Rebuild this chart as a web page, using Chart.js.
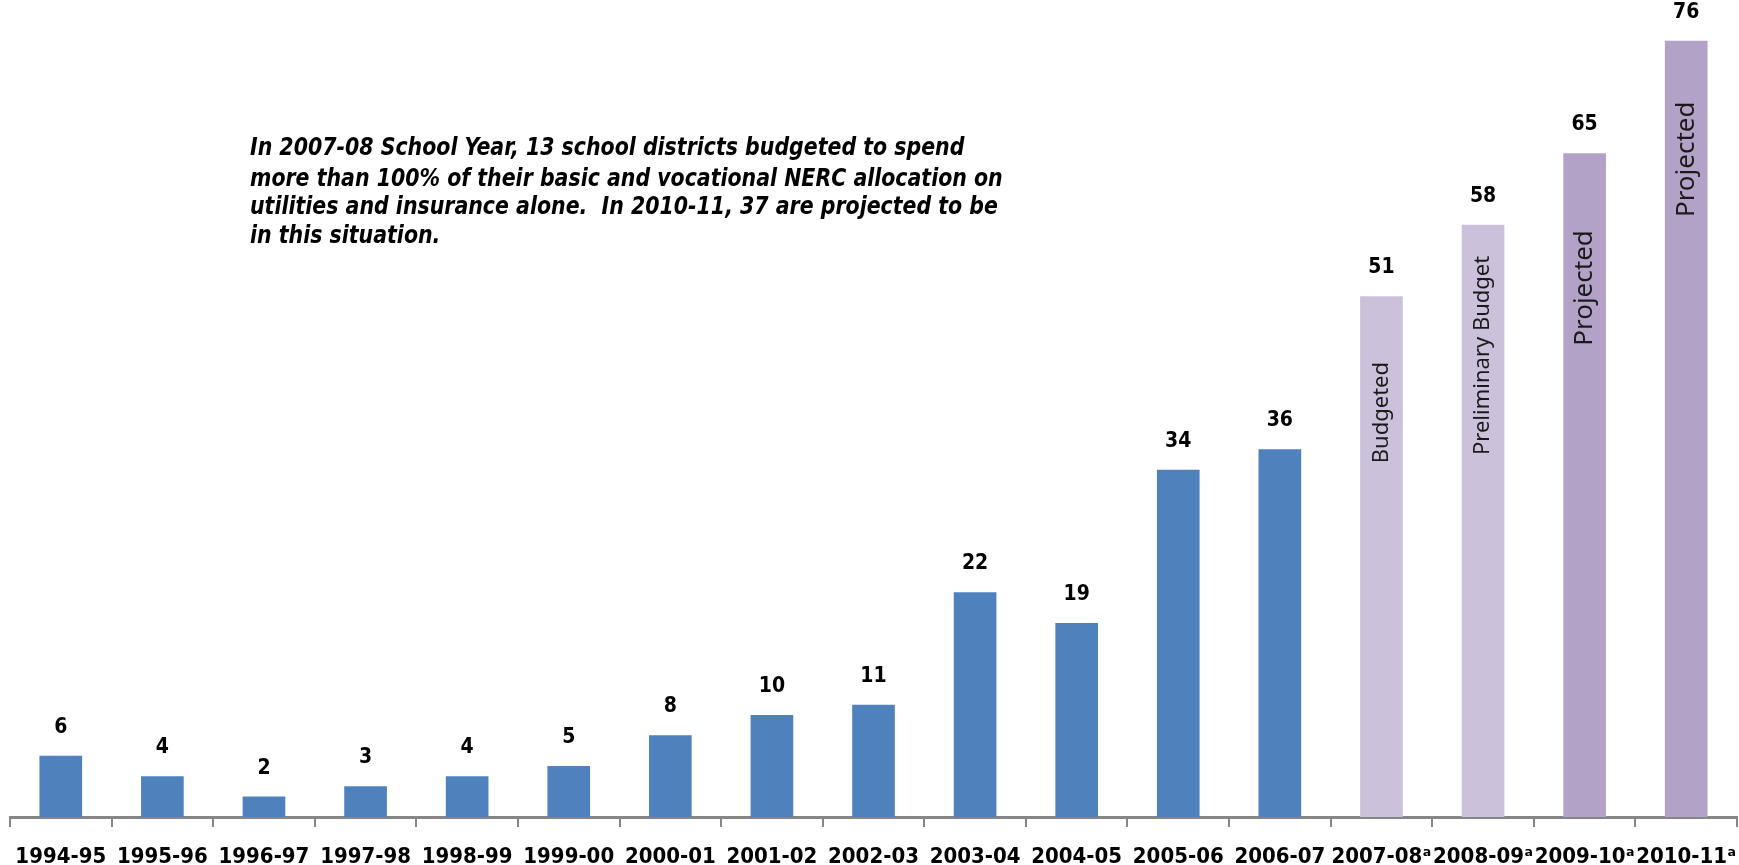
<!DOCTYPE html>
<html>
<head>
<meta charset="utf-8">
<script src="https://cdn.jsdelivr.net/npm/chart.js@4.4.0/dist/chart.umd.min.js"></script>
<style>
html,body{margin:0;padding:0;background:#fff;}
#wrap{width:1739px;height:865px;position:relative;}
</style>
</head>
<body>
<div id="wrap"><canvas id="c" width="1739" height="865"></canvas></div>
<script>
const categories = ['1994-95','1995-96','1996-97','1997-98','1998-99','1999-00','2000-01','2001-02','2002-03','2003-04','2004-05','2005-06','2006-07','2007-08ᵃ','2008-09ᵃ','2009-10ᵃ','2010-11ᵃ'];
const values = [6,4,2,3,4,5,8,10,11,22,19,34,36,51,58,65,76];
const barColors = ['#4F81BD','#4F81BD','#4F81BD','#4F81BD','#4F81BD','#4F81BD','#4F81BD','#4F81BD','#4F81BD','#4F81BD','#4F81BD','#4F81BD','#4F81BD','#CCC1DA','#CCC1DA','#B3A2C7','#B3A2C7'];
const barNotes = ['', '', '', '', '', '', '', '', '', '', '', '', '', 'Budgeted', 'Preliminary Budget', 'Projected', 'Projected'];
const barNoteCenters = [0,0,0,0,0,0,0,0,0,0,0,0,0,39.6,45.2,51.8,64.4];
const barNoteSizes = [0,0,0,0,0,0,0,0,0,0,0,0,0,22,22,26,26];
const noteLines = [
  'In 2007-08 School Year, 13 school districts budgeted to spend',
  'more than 100% of their basic and vocational NERC allocation on',
  'utilities and insurance alone.  In 2010-11, 37 are projected to be',
  'in this situation.'
];

const FONT = "'DejaVu Sans Condensed','DejaVu Sans',sans-serif";

const labelsPlugin = {
  id: 'labelsPlugin',
  afterDatasetsDraw(chart) {
    const ctx = chart.ctx;
    const meta = chart.getDatasetMeta(0);
    const ys = chart.scales.y;
    ctx.save();
    // value labels
    ctx.fillStyle = '#000';
    ctx.font = 'bold 21px ' + FONT;
    ctx.textAlign = 'center';
    ctx.textBaseline = 'bottom';
    meta.data.forEach((bar, i) => {
      ctx.fillText(String(values[i]), bar.x, bar.y - 18);
    });
    // rotated notes inside bars
    ctx.fillStyle = '#1a1a1a';
    ctx.textBaseline = 'middle';
    meta.data.forEach((bar, i) => {
      if (!barNotes[i]) return;
      ctx.font = barNoteSizes[i] + "px 'Noto Sans','Open Sans',sans-serif";
      const y = ys.getPixelForValue(barNoteCenters[i]);
      ctx.save();
      ctx.translate(bar.x, y);
      ctx.rotate(-Math.PI / 2);
      ctx.textAlign = 'center';
      ctx.fillText(barNotes[i], 0, 0);
      ctx.restore();
    });
    // annotation text
    ctx.fillStyle = '#000';
    ctx.font = "italic bold 24px 'Liberation Sans Narrow','DejaVu Sans Condensed',sans-serif";
    ctx.textAlign = 'left';
    ctx.textBaseline = 'middle';
    const lineYs = [149, 180, 208, 237];
    noteLines.forEach((t, k) => {
      ctx.save();
      ctx.translate(250, lineYs[k]);
      ctx.scale(0.95, 1);
      ctx.fillText(t, 0, 0);
      ctx.restore();
    });
    ctx.restore();
  }
};

new Chart(document.getElementById('c'), {
  type: 'bar',
  data: {
    labels: categories,
    datasets: [{
      data: values,
      backgroundColor: barColors,
      borderWidth: 0,
      barPercentage: 0.42,
      categoryPercentage: 1.0
    }]
  },
  options: {
    responsive: false,
    animation: false,
    layout: { padding: { left: 10, right: 2, top: 0, bottom: 0 } },
    plugins: { legend: { display: false }, tooltip: { enabled: false } },
    scales: {
      x: {
        offset: true,
        afterFit(scale) {
          scale.height = 48;
          scale.paddingLeft = 0;
          scale.paddingRight = 0;
        },
        grid: { offset: true, drawOnChartArea: false, color: '#868686', lineWidth: 2, tickLength: 10, tickColor: '#868686' },
        border: { color: '#868686', width: 3 },
        ticks: { color: '#000', font: { family: FONT, size: 22, weight: 'bold' }, maxRotation: 0, autoSkip: false, padding: 17 }
      },
      y: {
        display: false,
        min: 0,
        max: 80
      }
    }
  },
  plugins: [labelsPlugin]
});
</script>
</body>
</html>
